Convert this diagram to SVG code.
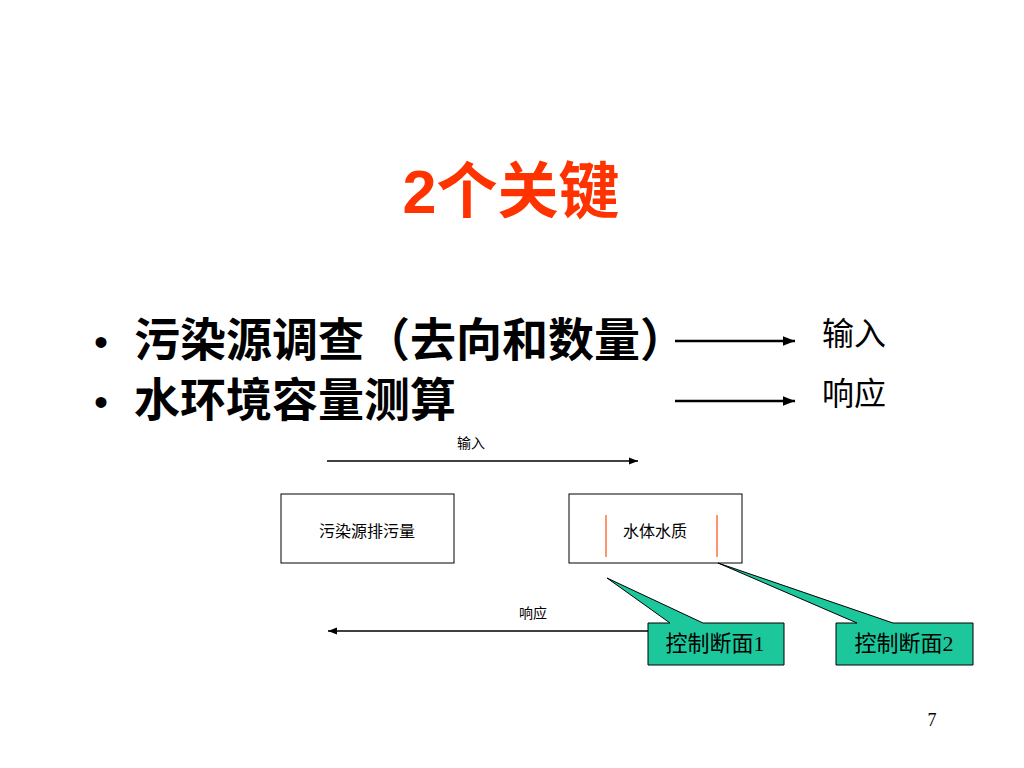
<svg xmlns="http://www.w3.org/2000/svg" width="1024" height="768" viewBox="0 0 1024 768">
<defs>
<style>
.cjk{font-family:"Noto Sans CJK SC","Noto Sans",sans-serif}
.ser{font-family:"Liberation Serif","Noto Sans CJK SC",serif}
.box{fill:#fff;stroke:#000;stroke-width:1}
.call{fill:#1CC79B;stroke:#000;stroke-width:1}
.ln{stroke:#000;fill:none}
</style>
<marker id="ah" viewBox="0 0 10 10" refX="10" refY="5" markerWidth="9" markerHeight="9" markerUnits="userSpaceOnUse" orient="auto"><path d="M0,1 L10,5 L0,9 Z" fill="#000"/></marker>
<marker id="ahb" viewBox="0 0 10 10" refX="10" refY="5" markerWidth="12" markerHeight="12" markerUnits="userSpaceOnUse" orient="auto"><path d="M0,1 L10,5 L0,9 Z" fill="#000"/></marker>
</defs>
<rect width="1024" height="768" fill="#fff"/>
<g id="title"><text x="511" y="213" text-anchor="middle" font-family="Liberation Sans,'Noto Sans CJK SC',sans-serif" font-weight="bold" font-size="61" fill="#FF3300">2个关键</text></g>
<g id="bullets">
<text x="94" y="356" font-family="Liberation Sans,sans-serif" font-size="40">•</text>
<text x="94" y="416" font-family="Liberation Sans,sans-serif" font-size="40">•</text>
<text x="134" y="356" class="cjk" font-size="46" font-weight="bold">污染源调查（去向和数量）</text>
<text x="134" y="416" class="cjk" font-size="46" font-weight="bold">水环境容量测算</text>
<text x="822" y="345" class="cjk" font-size="32">输入</text>
<text x="822" y="405" class="cjk" font-size="32">响应</text>
</g>
<g id="connectors">
<line class="ln" x1="675" y1="341" x2="795" y2="341" stroke-width="2.5" marker-end="url(#ahb)"/>
<line class="ln" x1="675" y1="401" x2="795" y2="401" stroke-width="2.5" marker-end="url(#ahb)"/>
<line class="ln" x1="327" y1="461" x2="638" y2="461" stroke-width="1.3" marker-end="url(#ah)"/>
<line class="ln" x1="648" y1="631" x2="328" y2="631" stroke-width="1.3" marker-end="url(#ah)"/>
<text x="471" y="448" text-anchor="middle" class="cjk" font-size="14">输入</text>
<text x="533" y="618" text-anchor="middle" class="cjk" font-size="14">响应</text>
</g>
<g id="node-source">
<rect class="box" x="281" y="494" width="173" height="69"/>
<text x="367" y="537" text-anchor="middle" class="cjk" font-size="16">污染源排污量</text>
</g>
<g id="node-water">
<rect class="box" x="569" y="494" width="173" height="69"/>
<line x1="606" y1="515" x2="606" y2="557" stroke="#FF5A1F" stroke-width="1.3"/>
<line x1="717" y1="515" x2="717" y2="557" stroke="#FF5A1F" stroke-width="1.3"/>
<text x="655" y="537" text-anchor="middle" class="cjk" font-size="16">水体水质</text>
</g>
<g id="callout1">
<path class="call" d="M648,623 L670,623 L607,578 L703,623 L784,623 L784,665 L648,665 Z"/>
<text x="715" y="651" text-anchor="middle" class="ser" font-size="22">控制断面1</text>
</g>
<g id="callout2">
<path class="call" d="M836,623 L857,623 L718,563 L893,623 L973,623 L973,665 L836,665 Z"/>
<text x="904" y="651" text-anchor="middle" class="ser" font-size="22">控制断面2</text>
</g>
<g id="page"><text x="932" y="726" text-anchor="middle" class="ser" font-size="18">7</text></g>
</svg>
